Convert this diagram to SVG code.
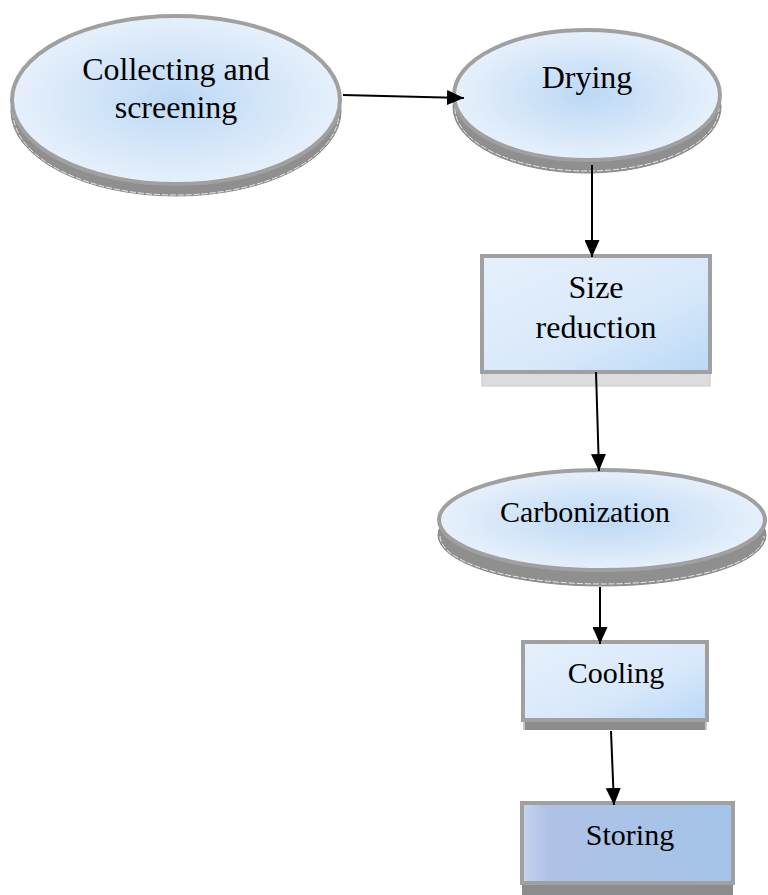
<svg xmlns="http://www.w3.org/2000/svg" width="768" height="895" viewBox="0 0 768 895">
<defs>
<radialGradient id="rg" cx="50%" cy="50%" r="50%">
<stop offset="0" stop-color="#bcd8f5"/>
<stop offset="1" stop-color="#e6f0fb"/>
</radialGradient>
<linearGradient id="lg" x1="0" y1="0" x2="1" y2="1">
<stop offset="0" stop-color="#e6f0fb"/>
<stop offset="0.6" stop-color="#d8e8fa"/>
<stop offset="1" stop-color="#b9d8f6"/>
</linearGradient>
<linearGradient id="lg2" x1="0" y1="0" x2="1" y2="0">
<stop offset="0" stop-color="#c4d5ee"/>
<stop offset="0.12" stop-color="#afc2e6"/>
<stop offset="1" stop-color="#a3c3e8"/>
</linearGradient>
<marker id="ah" markerWidth="17" markerHeight="15" refX="17" refY="7.5" orient="auto" markerUnits="userSpaceOnUse">
<path d="M0,0 L17,7.5 L0,15 Z" fill="#000"/>
</marker>
</defs>
<style>
.face{stroke:#a0a0a0;stroke-width:4}
.rim{fill:#8f8f8f;stroke:#8a8a8a;stroke-width:1}
.hl{fill:none;stroke:#ffffff;stroke-width:0.8;stroke-dasharray:6 2}
.t{font-family:"Liberation Serif","Times New Roman",serif;font-size:30px;fill:#000;text-anchor:middle}
.big{font-size:32px}
.c{stroke:#000;stroke-width:2;fill:none}
</style>
<rect width="768" height="895" fill="#fff"/>
<g id="node-collecting">
<ellipse class="rim" cx="176" cy="111" rx="165" ry="85"/>
<path class="hl" d="M13,112 A163,83 0 0 0 339,112"/>
<ellipse class="face" cx="176" cy="100" rx="164" ry="84" fill="url(#rg)"/>
<text class="t big" x="176" y="80">Collecting and</text>
<text class="t big" x="176" y="118">screening</text>
</g>
<g id="node-drying">
<ellipse class="rim" cx="587" cy="107" rx="134" ry="66"/>
<path class="hl" d="M455,108 A132,63 0 0 0 719,108"/>
<ellipse class="face" cx="587" cy="95" rx="133" ry="65" fill="url(#rg)"/>
<text class="t big" x="587" y="88">Drying</text>
</g>
<g id="node-size">
<rect x="482" y="372" width="228" height="14" fill="#dcdcdc" stroke="#c8c8c8" stroke-width="1"/>
<rect class="face" x="482" y="256" width="228" height="116" fill="url(#lg)"/>
<text class="t big" x="596" y="298">Size</text>
<text class="t big" x="596" y="338">reduction</text>
</g>
<g id="node-carbonization">
<ellipse class="rim" cx="602" cy="535" rx="164" ry="51"/>
<path class="hl" d="M440,536 A162,48 0 0 0 764,536"/>
<ellipse class="face" cx="602" cy="520" rx="163" ry="50" fill="url(#rg)"/>
<text class="t" x="585" y="522">Carbonization</text>
</g>
<g id="node-cooling">
<rect x="523" y="720" width="184" height="10" fill="#8c8c8c"/>
<line x1="524" y1="721" x2="524" y2="730" stroke="#fff" stroke-width="1"/>
<line x1="706" y1="721" x2="706" y2="730" stroke="#fff" stroke-width="1"/>
<rect class="face" x="523" y="642" width="184" height="78" fill="url(#lg)"/>
<text class="t" x="616" y="683">Cooling</text>
</g>
<g id="node-storing">
<rect x="522" y="883" width="211" height="12" fill="#8c8c8c"/>
<rect class="face" x="522" y="803" width="211" height="80" fill="url(#lg2)"/>
<text class="t" x="630" y="845">Storing</text>
</g>
<g id="connectors">
<line class="c" x1="343" y1="95" x2="464" y2="98" marker-end="url(#ah)"/>
<line class="c" x1="592" y1="165" x2="592" y2="257" marker-end="url(#ah)"/>
<line class="c" x1="596" y1="372" x2="599" y2="471" marker-end="url(#ah)"/>
<line class="c" x1="600" y1="587" x2="600" y2="644" marker-end="url(#ah)"/>
<line class="c" x1="611" y1="731" x2="614" y2="805" marker-end="url(#ah)"/>
</g>
</svg>
